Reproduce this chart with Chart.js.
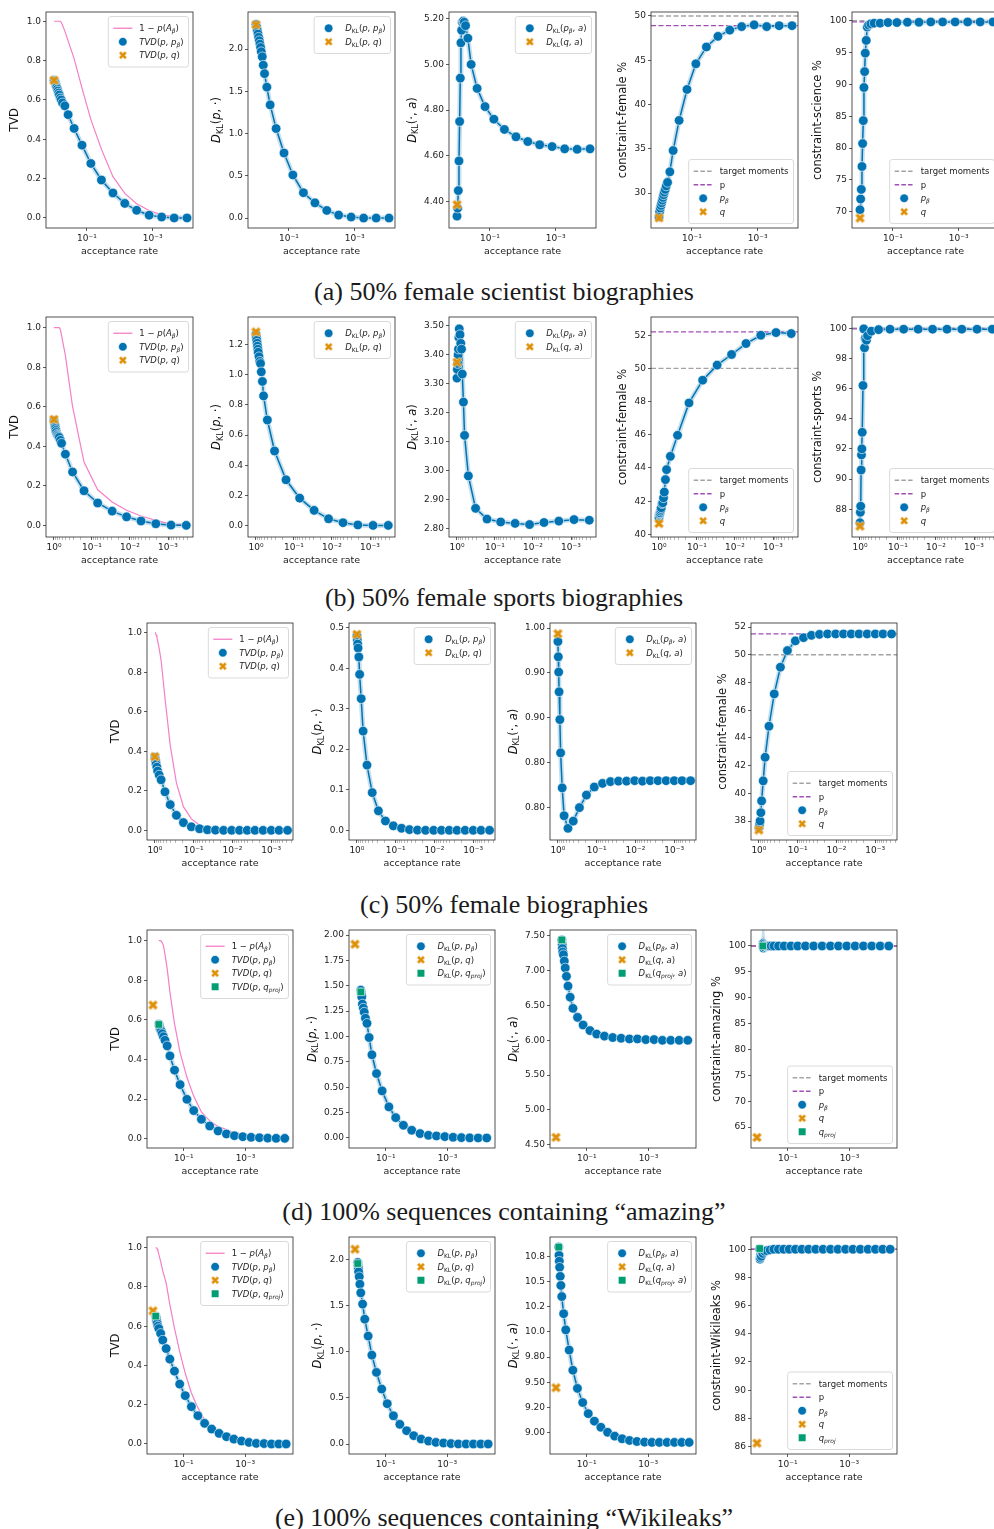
<!DOCTYPE html>
<html>
<head>
<meta charset="utf-8">
<title>acceptance rate panels</title>
<script src="https://cdn.jsdelivr.net/npm/chart.js@4.4.1/dist/chart.umd.min.js"></script>
<style>
  html, body { margin: 0; padding: 0; background: #fff; }
  body { position: relative; width: 994px; height: 1529px; overflow: hidden; }
  canvas { position: absolute; }
  .cap { position: absolute; left: 0; width: 1008px; text-align: center; font-family: "Liberation Serif", serif;
         font-size: 26px; line-height: 26px; color: #1a1a1a; white-space: nowrap; }
</style>
</head>
<body>
<div class="cap" style="top:279px">(a) 50% female scientist biographies</div>
<div class="cap" style="top:585px">(b) 50% female sports biographies</div>
<div class="cap" style="top:892px">(c) 50% female biographies</div>
<div class="cap" style="top:1199px">(d) 100% sequences containing “amazing”</div>
<div class="cap" style="top:1505px">(e) 100% sequences containing “Wikileaks”</div>
<script>
// acceptance rates of p_beta, one list per experiment (x axis)
const rateA = [1, 0.955, 0.912, 0.871, 0.832, 0.794, 0.759, 0.724, 0.692, 0.646, 0.603, 0.55, 0.468, 0.372, 0.245, 0.141, 0.0759, 0.0363, 0.0162, 0.00708, 0.00309, 0.00129, 0.000537, 0.000224, 0.0000912];
const rateB = [1, 0.977, 0.955, 0.933, 0.912, 0.891, 0.871, 0.832, 0.794, 0.759, 0.724, 0.676, 0.631, 0.501, 0.324, 0.162, 0.0708, 0.0295, 0.0123, 0.00513, 0.00209, 0.000832, 0.000331];
const rateC = [1, 0.977, 0.955, 0.933, 0.891, 0.851, 0.776, 0.692, 0.55, 0.403, 0.279, 0.184, 0.115, 0.0708, 0.0442, 0.0275, 0.017, 0.0105, 0.00661, 0.00417, 0.00263, 0.00162, 0.001, 0.000631, 0.00038];
const rateD = [0.646, 0.631, 0.617, 0.603, 0.575, 0.537, 0.501, 0.457, 0.407, 0.347, 0.282, 0.2, 0.132, 0.0794, 0.0479, 0.0269, 0.0145, 0.00776, 0.00417, 0.00229, 0.00123, 0.000661, 0.000355, 0.000191, 0.000102, 0.0000537];
const rateE = [0.813, 0.794, 0.776, 0.759, 0.724, 0.692, 0.646, 0.562, 0.479, 0.372, 0.282, 0.2, 0.135, 0.0891, 0.0562, 0.0347, 0.0209, 0.0123, 0.00708, 0.00407, 0.00234, 0.00132, 0.000759, 0.000437, 0.000245, 0.000141, 0.0000813, 0.0000468];
const qRate = 1;

// (a) scientist biographies
const tvdA = [0.70, 0.695, 0.685, 0.675, 0.665, 0.655, 0.645, 0.635, 0.625, 0.61, 0.60, 0.585, 0.57, 0.525, 0.455, 0.37, 0.277, 0.193, 0.127, 0.074, 0.039, 0.014, 0.005, 0.0, 0.0];
const accA = [1, 1, 1, 1, 1, 1, 1, 1, 1, 1, 0.995, 0.98, 0.95, 0.90, 0.81, 0.66, 0.50, 0.35, 0.21, 0.125, 0.072, 0.038, 0.016, 0.006, 0.001];
const klpA = [2.29, 2.26, 2.22, 2.18, 2.14, 2.10, 2.06, 2.02, 1.97, 1.91, 1.81, 1.71, 1.55, 1.34, 1.06, 0.77, 0.51, 0.30, 0.18, 0.09, 0.035, 0.012, 0.0, 0.0, 0.0];
const klaA = [4.335, 4.37, 4.447, 4.577, 4.75, 4.94, 5.095, 5.15, 5.185, 5.19, 5.185, 5.17, 5.115, 5.00, 4.895, 4.815, 4.76, 4.715, 4.683, 4.662, 4.648, 4.64, 4.63, 4.628, 4.63];
const femaleA = [27.3, 27.9, 28.3, 28.6, 28.9, 29.2, 29.5, 29.8, 30.1, 30.4, 30.8, 31.2, 32.4, 34.8, 38.2, 41.7, 44.6, 46.5, 47.7, 48.4, 48.8, 49.0, 48.8, 48.9, 48.9];
const scienceA = [70.3, 72.0, 73.5, 77.1, 80.7, 84.3, 89.5, 92.0, 94.9, 96.9, 99.0, 99.3, 99.5, 99.6, 99.6, 99.7, 99.7, 99.75, 99.75, 99.8, 99.8, 99.8, 99.8, 99.8, 99.8];
const qA = [0.70, 2.29, 4.385, 27.2, 69.0];
const targetA = [50, 100];
const pLineA = [48.9, 99.8];

// (b) sports biographies
const tvdB = [0.53, 0.52, 0.51, 0.50, 0.49, 0.48, 0.47, 0.46, 0.455, 0.45, 0.445, 0.43, 0.415, 0.36, 0.27, 0.175, 0.113, 0.072, 0.043, 0.022, 0.008, 0.001, 0.0];
const accB = [1, 1, 1, 1, 1, 1, 1, 1, 1, 1, 1, 0.99, 0.96, 0.86, 0.60, 0.32, 0.18, 0.118, 0.076, 0.047, 0.025, 0.006, 0.0];
const klpB = [1.27, 1.25, 1.23, 1.21, 1.19, 1.17, 1.15, 1.12, 1.09, 1.075, 1.02, 0.956, 0.86, 0.70, 0.494, 0.303, 0.181, 0.10, 0.044, 0.018, 0.003, 0.0, 0.0];
const klaB = [3.32, 3.35, 3.37, 3.40, 3.42, 3.46, 3.49, 3.47, 3.44, 3.42, 3.334, 3.237, 3.122, 2.982, 2.87, 2.833, 2.823, 2.818, 2.814, 2.821, 2.826, 2.831, 2.829];
const femaleB = [41.0, 41.2, 41.25, 41.3, 41.4, 41.5, 41.6, 41.85, 41.9, 42.2, 42.55, 43.3, 43.9, 44.7, 45.97, 47.92, 49.29, 50.2, 50.84, 51.5, 52.0, 52.16, 52.1];
const sportsB = [87.1, 87.8, 88.2, 90.6, 91.6, 92.0, 93.1, 96.2, 99.95, 98.7, 99.3, 99.2, 99.5, 99.8, 99.9, 99.93, 99.93, 99.93, 99.93, 99.93, 99.93, 99.93, 99.93];
const qB = [0.536, 1.285, 3.375, 40.65, 86.88];
const targetB = [50, 100];
const pLineB = [52.2, 99.95];

// (c) female biographies
const tvdC = [0.37, 0.36, 0.35, 0.335, 0.32, 0.30, 0.28, 0.256, 0.195, 0.13, 0.076, 0.039, 0.018, 0.008, 0.003, 0.001, 0, 0, 0, 0, 0, 0, 0, 0, 0];
const accC = [1, 1, 0.995, 0.99, 0.98, 0.96, 0.92, 0.86, 0.67, 0.43, 0.24, 0.12, 0.058, 0.027, 0.01, 0.002, 0, 0, 0, 0, 0, 0, 0, 0, 0];
const klpC = [0.48, 0.47, 0.46, 0.45, 0.428, 0.385, 0.325, 0.245, 0.161, 0.093, 0.048, 0.023, 0.011, 0.005, 0.0016, 0.0005, 0, 0, 0, 0, 0, 0, 0, 0, 0];
const klaC = [0.985, 0.968, 0.951, 0.929, 0.898, 0.861, 0.822, 0.791, 0.777, 0.785, 0.800, 0.814, 0.823, 0.827, 0.829, 0.8295, 0.8295, 0.83, 0.8295, 0.83, 0.83, 0.83, 0.83, 0.83, 0.83];
const femaleC = [37.5, 37.6, 37.8, 38.0, 38.6, 39.45, 40.9, 42.6, 44.84, 47.17, 49.1, 50.3, 51.0, 51.23, 51.4, 51.47, 51.5, 51.5, 51.5, 51.5, 51.5, 51.5, 51.5, 51.5, 51.5];
const qC = [0.373, 0.484, 0.9937, 37.35];
const targetC = [50];
const pLineC = [51.5];

// (d) "amazing"
const tvdD = [0.578, 0.572, 0.566, 0.56, 0.552, 0.543, 0.530, 0.515, 0.497, 0.469, 0.418, 0.346, 0.273, 0.199, 0.142, 0.098, 0.064, 0.039, 0.024, 0.015, 0.010, 0.007, 0.005, 0.003, 0.002, 0.0017];
const accD = [1, 1, 1, 1, 1, 0.997, 0.99, 0.975, 0.93, 0.86, 0.74, 0.58, 0.435, 0.31, 0.215, 0.135, 0.09, 0.062, 0.046, 0.03, 0.021, 0.015, 0.011, 0.008, 0.0065, 0.005];
const klpD = [1.457, 1.43, 1.41, 1.39, 1.32, 1.28, 1.24, 1.18, 1.13, 0.99, 0.82, 0.635, 0.464, 0.306, 0.20, 0.125, 0.076, 0.043, 0.026, 0.02, 0.013, 0.007, 0.003, 0.001, 0.0, 0.0];
const klaD = [7.443, 7.38, 7.32, 7.27, 7.23, 7.14, 7.04, 6.92, 6.78, 6.62, 6.46, 6.33, 6.22, 6.14, 6.09, 6.06, 6.04, 6.03, 6.02, 6.02, 6.01, 6.01, 6.0, 6.0, 6.0, 6.0];
const amazingD = [100.0, 100.5, 99.6, 100.3, 99.8, 100.1, 100, 100, 100, 100, 100, 100, 100, 100, 100, 100, 100, 100, 100, 100, 100, 100, 100, 100, 100, 100];
const qD = [0.675, 1.91, 4.605, 63.0];
const projD = [0.577, 1.44, 7.443, 100.0];
const targetD = [100];
const pLineD = [100];

// (e) "Wikileaks"
const tvdE = [0.65, 0.645, 0.635, 0.625, 0.614, 0.60, 0.588, 0.563, 0.529, 0.486, 0.432, 0.371, 0.305, 0.246, 0.19, 0.144, 0.105, 0.076, 0.054, 0.037, 0.025, 0.015, 0.008, 0.003, 0.002, 0.0, 0.0, 0.0];
const accE = [1, 1, 1, 0.998, 0.994, 0.985, 0.965, 0.93, 0.88, 0.82, 0.71, 0.59, 0.47, 0.36, 0.26, 0.185, 0.122, 0.076, 0.047, 0.03, 0.018, 0.007, 0.0, null, null, null, null, null];
const klpE = [1.964, 1.93, 1.90, 1.863, 1.81, 1.73, 1.636, 1.514, 1.351, 1.168, 0.962, 0.775, 0.595, 0.436, 0.306, 0.213, 0.144, 0.09, 0.054, 0.032, 0.018, 0.011, 0.004, 0.001, 0.0, 0.0, 0.0, 0.0];
const klaE = [10.84, 10.76, 10.70, 10.64, 10.55, 10.46, 10.35, 10.18, 10.02, 9.82, 9.62, 9.44, 9.30, 9.19, 9.115, 9.055, 9.005, 8.967, 8.941, 8.924, 8.914, 8.908, 8.905, 8.905, 8.905, 8.905, 8.905, 8.905];
const wikiE = [100.0, 99.3, 99.4, 99.6, 99.5, 99.8, 99.7, 99.85, 99.9, 99.95, 100, 100, 100, 100, 100, 100, 100, 100, 100, 100, 100, 100, 100, 100, 100, 100, 100, 100];
const qE = [0.678, 2.108, 9.447, 86.24];
const projE = [0.651, 1.953, 10.84, 100.05];
const targetE = [100];
const pLineE = [100];

// tick values and labels
const xTicksSparse = [0.1, 0.001];
const xLabelsSparse = ['10⁻¹', '10⁻³'];
const xTicksDense = [1, 0.1, 0.01, 0.001];
const xLabelsDense = ['10⁰', '10⁻¹', '10⁻²', '10⁻³'];
const tvdTicks = [0, 0.2, 0.4, 0.6, 0.8, 1.0];
const ticksKlpA = [0, 0.5, 1.0, 1.5, 2.0];
const ticksKlaA = [4.4, 4.6, 4.8, 5.0, 5.2];
const ticksFemA = [30, 35, 40, 45, 50];
const ticksSciA = [70, 75, 80, 85, 90, 95, 100];
const ticksKlpB = [0, 0.2, 0.4, 0.6, 0.8, 1.0, 1.2];
const ticksKlaB = [2.8, 2.9, 3.0, 3.1, 3.2, 3.3, 3.4, 3.5];
const ticksFemB = [40, 42, 44, 46, 48, 50, 52];
const ticksSpoB = [88, 90, 92, 94, 96, 98, 100];
const ticksKlpC = [0, 0.1, 0.2, 0.3, 0.4, 0.5];
const ticksKlaC = [0.80, 0.85, 0.90, 0.95, 1.00];
const labelsKlaC = ['0.80', '0.80', '0.90', '0.90', '1.00'];
const ticksFemC = [38, 40, 42, 44, 46, 48, 50, 52];
const ticksKlpD = [0, 0.25, 0.5, 0.75, 1.0, 1.25, 1.5, 1.75, 2.0];
const ticksKlaD = [4.5, 5.0, 5.5, 6.0, 6.5, 7.0, 7.5];
const ticksAmaD = [65, 70, 75, 80, 85, 90, 95, 100];
const ticksKlpE = [0, 0.5, 1.0, 1.5, 2.0];
const ticksKlaE = [9.0, 9.25, 9.5, 9.75, 10.0, 10.25, 10.5, 10.75];
const labelsKlaE = ['9.00', '9.20', '9.50', '9.80', '10.0', '10.2', '10.5', '10.8'];
const ticksWikE = [86, 88, 90, 92, 94, 96, 98, 100];

const BLUE = '#0173b2', ORANGE = '#de8f05', GREEN = '#029e73', PINK = '#f57fc6', PURPLE = '#a24cb5', GREY = '#a3a3a3';
const FONT = '"DejaVu Sans", sans-serif';
const TICK_SIZE = 9;
Chart.defaults.font.family = FONT;
Chart.defaults.color = '#222';

function fixed(vals, d) { return vals.map(v => v.toFixed(d)); }

// filled "X" marker like seaborn's
function xMarker(color, size) {
  const c = document.createElement('canvas');
  c.width = size; c.height = size;
  const g = c.getContext('2d');
  const s = size / 2, a = s * 0.95, t = s * 0.33;
  g.translate(s, s); g.rotate(Math.PI / 4);
  g.beginPath();
  g.moveTo(-t, -a); g.lineTo(t, -a); g.lineTo(t, -t); g.lineTo(a, -t); g.lineTo(a, t); g.lineTo(t, t);
  g.lineTo(t, a); g.lineTo(-t, a); g.lineTo(-t, t); g.lineTo(-a, t); g.lineTo(-a, -t); g.lineTo(-t, -t);
  g.closePath();
  g.fillStyle = color; g.fill();
  g.strokeStyle = '#fff'; g.lineWidth = 0.6; g.stroke();
  return c;
}
const xImg = xMarker(ORANGE, 11);

// tiny mathtext: letters italic, [..] roman, _x or _{..} subscript
function parseMath(str) {
  const out = [];
  let roman = false;
  for (let i = 0; i < str.length; i++) {
    const ch = str[i];
    if (ch === '[') { roman = true; continue; }
    if (ch === ']') { roman = false; continue; }
    if (ch === '_') {
      let body;
      if (str[i + 1] === '{') { const j = str.indexOf('}', i); body = str.slice(i + 2, j); i = j; }
      else { body = str[i + 1]; i++; }
      let r2 = false;
      for (const c of body) {
        if (c === '[') { r2 = true; continue; }
        if (c === ']') { r2 = false; continue; }
        out.push({t: c, it: !r2 && /[A-Za-zα-ω]/.test(c), sub: true});
      }
      continue;
    }
    out.push({t: ch, it: !roman && /[A-Za-zα-ω]/.test(ch), sub: false});
  }
  return out;
}
function fontFor(k, size) { return (k.it ? 'italic ' : '') + (k.sub ? size * 0.7 : size) + 'px ' + FONT; }
function richWidth(ctx, toks, size) {
  let w = 0;
  for (const k of toks) { ctx.font = fontFor(k, size); w += ctx.measureText(k.t).width; }
  return w;
}
function drawRich(ctx, toks, x, y, size) {
  ctx.textBaseline = 'alphabetic'; ctx.textAlign = 'left';
  for (const k of toks) {
    ctx.font = fontFor(k, size);
    ctx.fillText(k.t, x, y + (k.sub ? size * 0.22 : 0));
    x += ctx.measureText(k.t).width;
  }
}

function drawLegend(ctx, area, items, loc) {
  const fs = 8.5, rowH = 13.5;
  let tw = 0;
  for (const it of items) tw = Math.max(tw, richWidth(ctx, parseMath(it.label), fs));
  const bw = 31 + tw + 5, bh = 10 + items.length * rowH;
  const bx = area.right - 4.5 - bw;
  const by = loc === 'ur' ? area.top + 4.5 : area.bottom - 4.5 - bh;
  ctx.save();
  ctx.beginPath();
  ctx.roundRect(bx, by, bw, bh, 2.5);
  ctx.fillStyle = 'rgba(255,255,255,0.8)'; ctx.fill();
  ctx.strokeStyle = '#d0d0d0'; ctx.lineWidth = 0.8; ctx.stroke();
  items.forEach((it, i) => {
    const cy = by + 5 + rowH * (i + 0.5);
    const hx = bx + 5, hl = 19, mx = hx + hl / 2;
    if (it.kind === 'line' || it.kind === 'dash') {
      ctx.strokeStyle = it.color; ctx.lineWidth = 1.3;
      ctx.setLineDash(it.kind === 'dash' ? [4.5, 2.2] : []);
      ctx.beginPath(); ctx.moveTo(hx, cy); ctx.lineTo(hx + hl, cy); ctx.stroke();
      ctx.setLineDash([]);
    } else if (it.kind === 'dot') {
      ctx.beginPath(); ctx.arc(mx, cy, 4.3, 0, Math.PI * 2);
      ctx.fillStyle = BLUE; ctx.fill(); ctx.strokeStyle = '#fff'; ctx.lineWidth = 0.6; ctx.stroke();
    } else if (it.kind === 'x') {
      ctx.drawImage(xImg, mx - 4.5, cy - 4.5, 9, 9);
    } else if (it.kind === 'sq') {
      ctx.fillStyle = GREEN; ctx.fillRect(mx - 3.5, cy - 3.5, 7, 7);
    }
    ctx.fillStyle = '#222';
    drawRich(ctx, parseMath(it.label), bx + 31, cy + fs * 0.36, fs);
  });
  ctx.restore();
}

// y label placed clear of the widest tick label, as matplotlib does
function drawYTitle(ctx, area, label, size, tickLabels) {
  ctx.font = TICK_SIZE + 'px ' + FONT;
  let lw = 0;
  for (const s of tickLabels) lw = Math.max(lw, ctx.measureText(s).width);
  const toks = parseMath(label);
  const w = richWidth(ctx, toks, size);
  ctx.save();
  ctx.translate(area.left - 5 - lw - 12.5, (area.top + area.bottom) / 2);
  ctx.rotate(-Math.PI / 2);
  ctx.fillStyle = '#111';
  drawRich(ctx, toks, -w / 2, size * 0.36, size);
  ctx.restore();
}

function tvdItems(proj) {
  const it = [{label: '1 − p(A_β)', kind: 'line', color: PINK}, {label: 'TVD(p, p_β)', kind: 'dot'}, {label: 'TVD(p, q)', kind: 'x'}];
  if (proj) it.push({label: 'TVD(p, q_{proj})', kind: 'sq'});
  return it;
}
function klpItems(proj) {
  const it = [{label: 'D_{[KL]}(p, p_β)', kind: 'dot'}, {label: 'D_{[KL]}(p, q)', kind: 'x'}];
  if (proj) it.push({label: 'D_{[KL]}(p, q_{proj})', kind: 'sq'});
  return it;
}
function klaItems(proj) {
  const it = [{label: 'D_{[KL]}(p_β, a)', kind: 'dot'}, {label: 'D_{[KL]}(q, a)', kind: 'x'}];
  if (proj) it.push({label: 'D_{[KL]}(q_{proj}, a)', kind: 'sq'});
  return it;
}
function conItems(proj) {
  const it = [{label: '[target moments]', kind: 'dash', color: GREY}, {label: '[p]', kind: 'dash', color: PURPLE},
              {label: 'p_β', kind: 'dot'}, {label: 'q', kind: 'x'}];
  if (proj) it.push({label: 'q_{proj}', kind: 'sq'});
  return it;
}

function pts(xs, ys) { return xs.map((x, i) => ({x: x, y: ys[i]})); }
function hline(xr, v, color) {
  return {data: [{x: xr[0], y: v}, {x: xr[1], y: v}], showLine: true, borderColor: color, borderDash: [5, 2.5], borderWidth: 1.3, pointRadius: 0};
}
function xTickList(row) {
  const list = row.xt.map(v => ({value: v}));
  if (row.minor) {
    for (let e = -4; e <= 0; e++) for (let m = 2; m <= 9; m++) {
      const v = m * Math.pow(10, e);
      if (v > row.xr[1] && v < row.xr[0]) list.push({value: v});
    }
  }
  return list.sort((a, b) => a.value - b.value);
}

function draw_panel(row, col, p) {
  const left = row.lefts[col], w = row.w, h = row.h;
  const W = 46 + w + 6, H = 6 + h + 34;
  const cv = document.createElement('canvas');
  cv.width = W; cv.height = H;
  cv.style.left = (left - 46) + 'px'; cv.style.top = (row.top - 6) + 'px';
  cv.style.width = W + 'px'; cv.style.height = H + 'px';
  document.body.appendChild(cv);

  const ds = [];
  if (p.proj !== undefined) ds.push({data: [{x: row.rate[0], y: p.proj}], pointStyle: 'rect', pointRadius: 5.3,
    pointBackgroundColor: GREEN, pointBorderColor: '#fff', pointBorderWidth: 0.6});
  ds.push({data: [{x: qRate, y: p.q}], pointStyle: xImg, pointRadius: 5});
  ds.push({data: pts(row.rate, p.vals), showLine: true, borderColor: BLUE, borderWidth: 1.5, pointRadius: 4.8,
    pointBackgroundColor: BLUE, pointBorderColor: '#fff', pointBorderWidth: 0.6});
  if (p.acc) ds.push({data: pts(row.rate, p.acc), showLine: true, borderColor: PINK, borderWidth: 1.2, pointRadius: 0});
  if (p.pline !== undefined) ds.push(hline(row.xr, p.pline, PURPLE));
  if (p.target !== undefined) ds.push(hline(row.xr, p.target, GREY));
  ds.push({data: pts(row.rate, p.vals), showLine: true, borderColor: 'rgba(1,115,178,0.22)', borderWidth: 5, pointRadius: 0});

  const deco = {
    id: 'deco',
    afterDraw(chart) {
      const ctx = chart.ctx, a = chart.chartArea;
      ctx.save();
      ctx.strokeStyle = '#262626'; ctx.lineWidth = 0.8;
      ctx.strokeRect(a.left, a.top, a.right - a.left, a.bottom - a.top);
      ctx.restore();
      drawLegend(ctx, a, p.legend, p.loc);
      drawYTitle(ctx, a, p.ytitle, 11.5, p.yl);
    }
  };

  new Chart(cv, {
    type: 'scatter',
    data: {datasets: ds},
    options: {
      responsive: false, animation: false, devicePixelRatio: 1, events: [],
      layout: {padding: {top: 6, right: 6, left: 0, bottom: 0}},
      plugins: {legend: {display: false}, tooltip: {enabled: false}},
      scales: {
        x: {
          type: 'logarithmic', reverse: true, min: row.xr[1], max: row.xr[0],
          afterBuildTicks: s => { s.ticks = xTickList(row); },
          afterFit: s => { s.height = 34; s.paddingLeft = 0; s.paddingRight = 0; },
          grid: {drawOnChartArea: false, tickLength: 3,
                 tickColor: c => (c.tick && c.tick.label) ? '#333' : '#777',
                 tickWidth: c => (c.tick && c.tick.label) ? 0.8 : 0.5},
          border: {display: false},
          ticks: {autoSkip: false, maxRotation: 0, padding: 2, color: '#222', font: {size: TICK_SIZE},
                  callback: v => { const i = row.xt.indexOf(v); return i < 0 ? '' : row.xl[i]; }},
          title: {display: true, text: 'acceptance rate', color: '#222', font: {size: 9.5}, padding: {top: 0, bottom: 4.3}}
        },
        y: {
          min: p.yr[0], max: p.yr[1],
          afterBuildTicks: s => { s.ticks = p.yt.map(v => ({value: v})); },
          afterFit: s => { s.width = 46; s.paddingTop = 0; s.paddingBottom = 0; },
          grid: {drawOnChartArea: false, tickLength: 3, tickColor: '#333', tickWidth: 0.8},
          border: {display: false},
          ticks: {autoSkip: false, padding: 2, color: '#222', font: {size: TICK_SIZE}, callback: (v, i) => p.yl[i]},
          title: {display: false}
        }
      }
    },
    plugins: [deco]
  });
}

const rowA = {top: 12, h: 216, w: 147, lefts: [46, 248, 449, 651, 852], xr: [1.75, 6e-5], xt: xTicksSparse, xl: xLabelsSparse, minor: false, rate: rateA};
const rowB = {top: 317, h: 220, w: 147, lefts: [46, 248, 449, 651, 852], xr: [1.62, 2.2e-4], xt: xTicksDense, xl: xLabelsDense, minor: true, rate: rateB};
const rowC = {top: 623, h: 217, w: 146, lefts: [147, 349, 550, 751], xr: [1.6, 2.75e-4], xt: xTicksDense, xl: xLabelsDense, minor: true, rate: rateC};
const rowD = {top: 930, h: 218, w: 146, lefts: [147, 349, 550, 751], xr: [1.56, 2.9e-5], xt: xTicksSparse, xl: xLabelsSparse, minor: false, rate: rateD};
const rowE = {top: 1237, h: 217, w: 146, lefts: [147, 349, 550, 751], xr: [1.56, 2.8e-5], xt: xTicksSparse, xl: xLabelsSparse, minor: false, rate: rateE};

// (a)
draw_panel(rowA, 0, {vals: tvdA, acc: accA, q: qA[0], yr: [-0.051, 1.047], yt: tvdTicks, yl: fixed(tvdTicks, 1), ytitle: '[TVD]', legend: tvdItems(false), loc: 'ur'});
draw_panel(rowA, 1, {vals: klpA, q: qA[1], yr: [-0.118, 2.44], yt: ticksKlpA, yl: fixed(ticksKlpA, 1), ytitle: 'D_{[KL]}(p, ·)', legend: klpItems(false), loc: 'ur'});
draw_panel(rowA, 2, {vals: klaA, q: qA[2], yr: [4.283, 5.23], yt: ticksKlaA, yl: fixed(ticksKlaA, 2), ytitle: 'D_{[KL]}(·, a)', legend: klaItems(false), loc: 'ur'});
draw_panel(rowA, 3, {vals: femaleA, q: qA[3], target: targetA[0], pline: pLineA[0], yr: [26.05, 50.45], yt: ticksFemA, yl: fixed(ticksFemA, 0), ytitle: '[constraint-female %]', legend: conItems(false), loc: 'lr'});
draw_panel(rowA, 4, {vals: scienceA, q: qA[4], target: targetA[1], pline: pLineA[1], yr: [67.44, 101.36], yt: ticksSciA, yl: fixed(ticksSciA, 0), ytitle: '[constraint-science %]', legend: conItems(false), loc: 'lr'});
// (b)
draw_panel(rowB, 0, {vals: tvdB, acc: accB, q: qB[0], yr: [-0.059, 1.054], yt: tvdTicks, yl: fixed(tvdTicks, 1), ytitle: '[TVD]', legend: tvdItems(false), loc: 'ur'});
draw_panel(rowB, 1, {vals: klpB, q: qB[1], yr: [-0.077, 1.384], yt: ticksKlpB, yl: fixed(ticksKlpB, 1), ytitle: 'D_{[KL]}(p, ·)', legend: klpItems(false), loc: 'ur'});
draw_panel(rowB, 2, {vals: klaB, q: qB[2], yr: [2.771, 3.531], yt: ticksKlaB, yl: fixed(ticksKlaB, 2), ytitle: 'D_{[KL]}(·, a)', legend: klaItems(false), loc: 'ur'});
draw_panel(rowB, 3, {vals: femaleB, q: qB[3], target: targetB[0], pline: pLineB[0], yr: [39.84, 53.1], yt: ticksFemB, yl: fixed(ticksFemB, 0), ytitle: '[constraint-female %]', legend: conItems(false), loc: 'lr'});
draw_panel(rowB, 4, {vals: sportsB, q: qB[4], target: targetB[1], pline: pLineB[1], yr: [86.16, 100.74], yt: ticksSpoB, yl: fixed(ticksSpoB, 0), ytitle: '[constraint-sports %]', legend: conItems(false), loc: 'lr'});
// (c)
draw_panel(rowC, 0, {vals: tvdC, acc: accC, q: qC[0], yr: [-0.049, 1.05], yt: tvdTicks, yl: fixed(tvdTicks, 1), ytitle: '[TVD]', legend: tvdItems(false), loc: 'ur'});
draw_panel(rowC, 1, {vals: klpC, q: qC[1], yr: [-0.024, 0.512], yt: ticksKlpC, yl: fixed(ticksKlpC, 1), ytitle: 'D_{[KL]}(p, ·)', legend: klpItems(false), loc: 'ur'});
draw_panel(rowC, 2, {vals: klaC, q: qC[2], yr: [0.764, 1.0056], yt: ticksKlaC, yl: labelsKlaC, ytitle: 'D_{[KL]}(·, a)', legend: klaItems(false), loc: 'ur'});
draw_panel(rowC, 3, {vals: femaleC, q: qC[3], target: targetC[0], pline: pLineC[0], yr: [36.63, 52.29], yt: ticksFemC, yl: fixed(ticksFemC, 0), ytitle: '[constraint-female %]', legend: conItems(false), loc: 'lr'});
// (d)
draw_panel(rowD, 0, {vals: tvdD, acc: accD, q: qD[0], proj: projD[0], yr: [-0.047, 1.054], yt: tvdTicks, yl: fixed(tvdTicks, 1), ytitle: '[TVD]', legend: tvdItems(true), loc: 'ur'});
draw_panel(rowD, 1, {vals: klpD, q: qD[1], proj: projD[1], yr: [-0.099, 2.05], yt: ticksKlpD, yl: fixed(ticksKlpD, 2), ytitle: 'D_{[KL]}(p, ·)', legend: klpItems(true), loc: 'ur'});
draw_panel(rowD, 2, {vals: klaD, q: qD[2], proj: projD[2], yr: [4.452, 7.586], yt: ticksKlaD, yl: fixed(ticksKlaD, 2), ytitle: 'D_{[KL]}(·, a)', legend: klaItems(true), loc: 'ur'});
draw_panel(rowD, 3, {vals: amazingD, q: qD[3], proj: projD[3], target: targetD[0], pline: pLineD[0], yr: [60.95, 103.09], yt: ticksAmaD, yl: fixed(ticksAmaD, 0), ytitle: '[constraint-amazing %]', legend: conItems(true), loc: 'lr'});
// (e)
draw_panel(rowE, 0, {vals: tvdE, acc: accE, q: qE[0], proj: projE[0], yr: [-0.051, 1.054], yt: tvdTicks, yl: fixed(tvdTicks, 1), ytitle: '[TVD]', legend: tvdItems(true), loc: 'ur'});
draw_panel(rowE, 1, {vals: klpE, q: qE[1], proj: projE[1], yr: [-0.108, 2.24], yt: ticksKlpE, yl: fixed(ticksKlpE, 1), ytitle: 'D_{[KL]}(p, ·)', legend: klpItems(true), loc: 'ur'});
draw_panel(rowE, 2, {vals: klaE, q: qE[2], proj: projE[2], yr: [8.79, 10.94], yt: ticksKlaE, yl: labelsKlaE, ytitle: 'D_{[KL]}(·, a)', legend: klaItems(true), loc: 'ur'});
draw_panel(rowE, 3, {vals: wikiE, q: qE[3], proj: projE[3], target: targetE[0], pline: pLineE[0], yr: [85.47, 100.87], yt: ticksWikE, yl: fixed(ticksWikE, 0), ytitle: '[constraint-Wikileaks %]', legend: conItems(true), loc: 'lr'});
</script>
</body>
</html>
